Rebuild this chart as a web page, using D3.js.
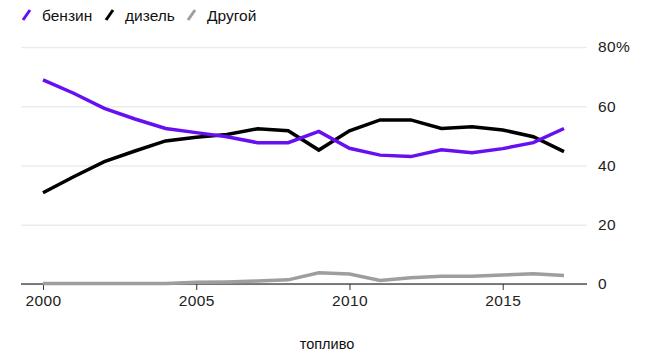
<!DOCTYPE html>
<html><head><meta charset="utf-8">
<script src="https://cdn.jsdelivr.net/npm/d3@7"></script>
<style>
html,body{margin:0;padding:0;background:#fff;}
text{font-family:"Liberation Sans",Arial,sans-serif;}
</style></head>
<body><svg id="c" width="649" height="360"></svg>
<script>
const years = [2000,2001,2002,2003,2004,2005,2006,2007,2008,2009,2010,2011,2012,2013,2014,2015,2016,2017];
const benzin = [68.9,64.4,59.3,55.7,52.5,51.1,49.7,47.7,47.7,51.5,45.8,43.5,43.0,45.3,44.3,45.7,47.7,52.5];
const dizel  = [30.8,36.2,41.3,44.9,48.3,49.5,50.5,52.4,51.7,45.2,51.7,55.4,55.4,52.5,53.1,52.0,49.7,44.7];
const drugoy = [0.2,0.2,0.2,0.2,0.2,0.6,0.7,1.0,1.4,3.8,3.4,1.2,2.1,2.6,2.6,3.0,3.5,2.9];
const seriesNames = ["бензин","дизель","Другой"];
const seriesColors = ["#6610f2","#000000","#9e9e9e"];
const xTicks = [2000,2005,2010,2015];
const yTicks = [0,20,40,60,80];
const axisTitle = "топливо";

const svg = d3.select("#c");
const x = d3.scaleLinear().domain([2000,2017]).range([43,564]);
const y = d3.scaleLinear().domain([0,80]).range([284,47]);
const gridLeft = 21, gridRight = 587;

// y grid + labels
const yAxis = d3.axisRight(y).tickValues(yTicks)
  .tickSize(-(gridRight-gridLeft)).tickPadding(11)
  .tickFormat(d => d===80 ? d+"%" : d);
const gy = svg.append("g").attr("transform",`translate(${gridRight},0)`).call(yAxis);
gy.select(".domain").remove();
gy.selectAll(".tick line").attr("stroke","#ececec").attr("stroke-width",1.5);
gy.selectAll(".tick text").attr("font-size",15.5).attr("fill","#222").style("letter-spacing","0.4px")
  .attr("font-family","'Liberation Sans',Arial,sans-serif");

// baseline
svg.append("line").attr("x1",gridLeft).attr("x2",gridRight).attr("y1",y(0)).attr("y2",y(0))
  .attr("stroke","#000").attr("stroke-width",1);

// x axis
const xAxis = d3.axisBottom(x).tickValues(xTicks).tickSize(6).tickPadding(5).tickFormat(d3.format("d"));
const gx = svg.append("g").attr("transform",`translate(0,${y(0)})`).call(xAxis);
gx.select(".domain").remove();
gx.selectAll(".tick line").attr("stroke","#333");
gx.selectAll(".tick text").attr("font-size",15.5).attr("fill","#222").style("letter-spacing","0.4px")
  .attr("font-family","'Liberation Sans',Arial,sans-serif");

// lines
const data = [benzin, dizel, drugoy];
const line = d3.line().x((d,i)=>x(years[i])).y(d=>y(d));
// draw order: other, then black, then purple? purple over black visually at crossings
[2,1,0].forEach(k=>{
  svg.append("path").datum(data[k]).attr("d",line).attr("fill","none")
    .attr("stroke",seriesColors[k]).attr("stroke-width",3.5).attr("stroke-linejoin","miter");
});

// legend
const legendX = [22,105,187];
seriesNames.forEach((n,i)=>{
  const g = svg.append("g").attr("transform",`translate(${legendX[i]},0)`);
  g.append("line").attr("x1",1).attr("y1",20).attr("x2",8).attr("y2",10)
    .attr("stroke",seriesColors[i]).attr("stroke-width",3);
  g.append("text").attr("x",20).attr("y",21).attr("font-size",15.5).attr("fill","#111").text(n);
});

// axis title
svg.append("text").attr("x",327).attr("y",349).attr("text-anchor","middle")
  .attr("font-size",14.5).attr("fill","#111").text(axisTitle);
</script></body></html>
